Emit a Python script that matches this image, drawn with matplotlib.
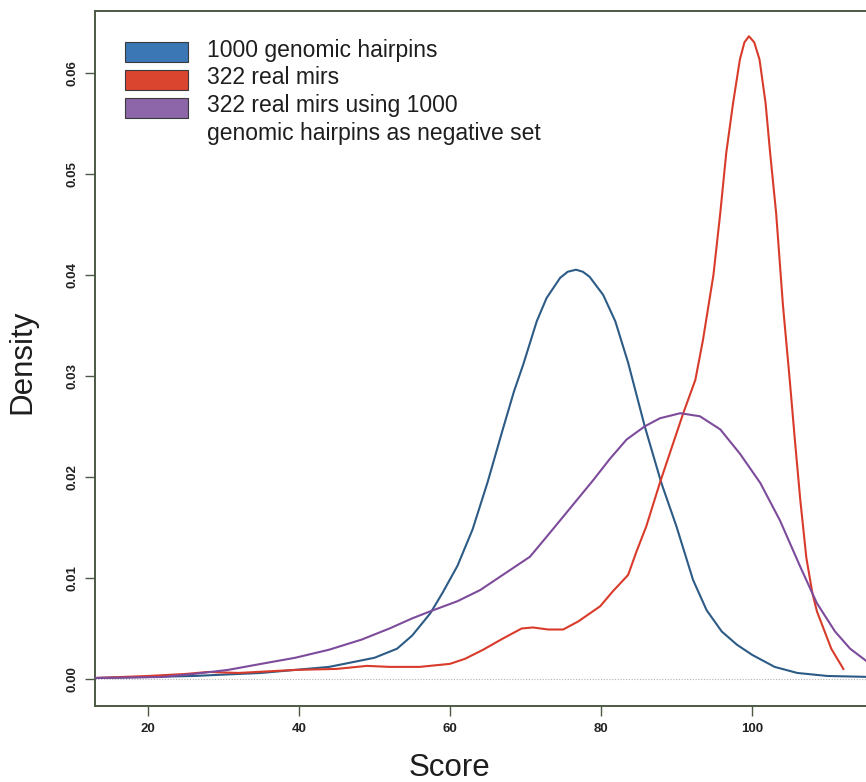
import matplotlib
matplotlib.use('Agg')
import matplotlib.pyplot as plt
from matplotlib.patches import Rectangle

plt.rcParams['font.family'] = ['Liberation Sans', 'DejaVu Sans']

# score / density
genomic_x = [13, 20, 26, 35, 44, 50, 53, 55, 57.4, 59, 61, 63, 65, 67, 68.5, 69.7, 71.5, 72.8,
             74.6, 75.6, 76.7, 77.6, 78.5, 80.3, 81.9, 83.6, 85.8, 88.0, 90.0, 92.2, 94,
             96, 98, 100, 103, 106, 110, 116]
genomic_y = [0.0001, 0.0002, 0.0003, 0.0006, 0.0012, 0.0021, 0.0030, 0.0043, 0.0065, 0.0085,
             0.0112, 0.0148, 0.0195, 0.0247, 0.0285, 0.0311, 0.0354, 0.0377,
             0.0397, 0.0403, 0.0405, 0.0403, 0.0398, 0.0380, 0.0354, 0.0313, 0.0250,
             0.0194, 0.0151, 0.0098, 0.0068, 0.0047, 0.0034, 0.0024, 0.0012, 0.0006,
             0.0003, 0.0002]

mirs_x = [13, 20, 25, 28, 32, 39.5, 45, 49, 52, 56, 60, 62, 64.4, 67, 69.5, 71, 73, 75, 77,
          79.9, 81.6, 83.6, 84.7, 86.0, 87.8, 89.1, 90.9, 92.5, 93.5, 94.9, 95.8, 96.6,
          97.5, 98.4, 99.0, 99.6, 100.3, 101.0, 101.8, 102.4, 103.2, 104.1, 105.0, 105.7,
          106.4, 107.2, 108.0, 108.6, 110.5, 112.1]
mirs_y = [0.0001, 0.0003, 0.0005, 0.0007, 0.0006, 0.0009, 0.0010, 0.0013, 0.0012, 0.0012,
          0.0015, 0.0020, 0.0029, 0.0040, 0.0050, 0.0051, 0.0049, 0.0049, 0.0057,
          0.0072, 0.0087, 0.0103, 0.0126, 0.0151, 0.0194, 0.0223, 0.0263, 0.0296,
          0.0335, 0.0400, 0.0461, 0.0521, 0.0570, 0.0613, 0.0630, 0.0636, 0.0630,
          0.0613, 0.0570, 0.0521, 0.0461, 0.0370, 0.0296, 0.0235, 0.0177, 0.0120,
          0.0085, 0.0067, 0.0030, 0.0010]

neg_x = [13, 21.8, 26, 30.6, 35, 39.5, 44, 48.3, 52, 55, 57.4, 61, 64, 67, 70.6, 72.5, 74.6,
         76.8, 79.0, 81.2, 83.4, 85.8, 87.8, 90.5, 93.1, 95.8, 98.4, 101.1, 103.7, 106.4,
         108.6, 111, 113, 116]
neg_y = [0.0001, 0.0002, 0.0005, 0.0009, 0.0015, 0.0021, 0.0029, 0.0039, 0.0050, 0.0060,
         0.0067, 0.0077, 0.0088, 0.0103, 0.0121, 0.0138, 0.0157, 0.0177, 0.0197,
         0.0218, 0.0237, 0.0250, 0.0258, 0.0263, 0.0260, 0.0247, 0.0223, 0.0194,
         0.0157, 0.0111, 0.0075, 0.0047, 0.0030, 0.0013]

labels = ['1000 genomic hairpins', '322 real mirs',
          '322 real mirs using 1000\ngenomic hairpins as negative set']
line_colors = ['#2c5b86', '#d93b2b', '#7d4b9b']
patch_colors = ['#3b76b5', '#d9452f', '#8c66a8']
x_ticks = [20, 40, 60, 80, 100]
y_ticks = [0.00, 0.01, 0.02, 0.03, 0.04, 0.05, 0.06]

AX = '#4b5944'
W, H = 866, 782
fig = plt.figure(figsize=(W / 100, H / 100), dpi=100)
ax = fig.add_axes([95 / W, 1 - 706 / H, (W - 95) / W, (706 - 11) / H])

ax.axhline(0, color='#b0b0b0', lw=0.8, ls=(0, (1, 1.5)), zorder=1)
for xs, ys, c in zip([genomic_x, mirs_x, neg_x], [genomic_y, mirs_y, neg_y], line_colors):
    ax.plot(xs, ys, color=c, lw=1.5, zorder=3, solid_joinstyle='round')

ax.set_xlim(13.0, 115.1)
ax.set_ylim(-0.00267, 0.0661)
ax.set_xticks(x_ticks)
ax.set_yticks(y_ticks)
ax.set_yticklabels([f'{v:.2f}' for v in y_ticks], rotation=90, va='center')
ax.tick_params(axis='both', direction='out', length=7, width=1.0, color=AX,
               labelsize=9.5, labelcolor='#222222', pad=5)
for t in ax.get_xticklabels() + ax.get_yticklabels():
    t.set_fontweight('bold')
for sp in ax.spines.values():
    sp.set_color(AX)
    sp.set_linewidth(1.4)
ax.spines['right'].set_visible(False)

# legend: boxes + text lines on baselines 28 px apart
k = 0
for i, (lab, pc) in enumerate(zip(labels, patch_colors)):
    ax.add_patch(Rectangle((0.0389, 0.9266 - i * 0.0403), 0.0817, 0.0288,
                           transform=ax.transAxes, facecolor=pc, edgecolor='#3a3a3a',
                           lw=0.8, zorder=4))
    for line in lab.split('\n'):
        ax.text(0.1453, 0.9343 - k * 0.0400, line, transform=ax.transAxes, fontsize=16.5,
                color='#1e1e1e', va='baseline', ha='left', zorder=5)
        k += 1

fig.text(450 / W, 1 - 768 / H, 'Score', fontsize=22.5, ha='center', va='center', color='#1e1e1e')
fig.text(22 / W, 1 - 362 / H, 'Density', fontsize=22.5, rotation=90, ha='center',
         va='center', color='#1e1e1e')

fig.savefig('out.png', dpi=100, facecolor='white')
